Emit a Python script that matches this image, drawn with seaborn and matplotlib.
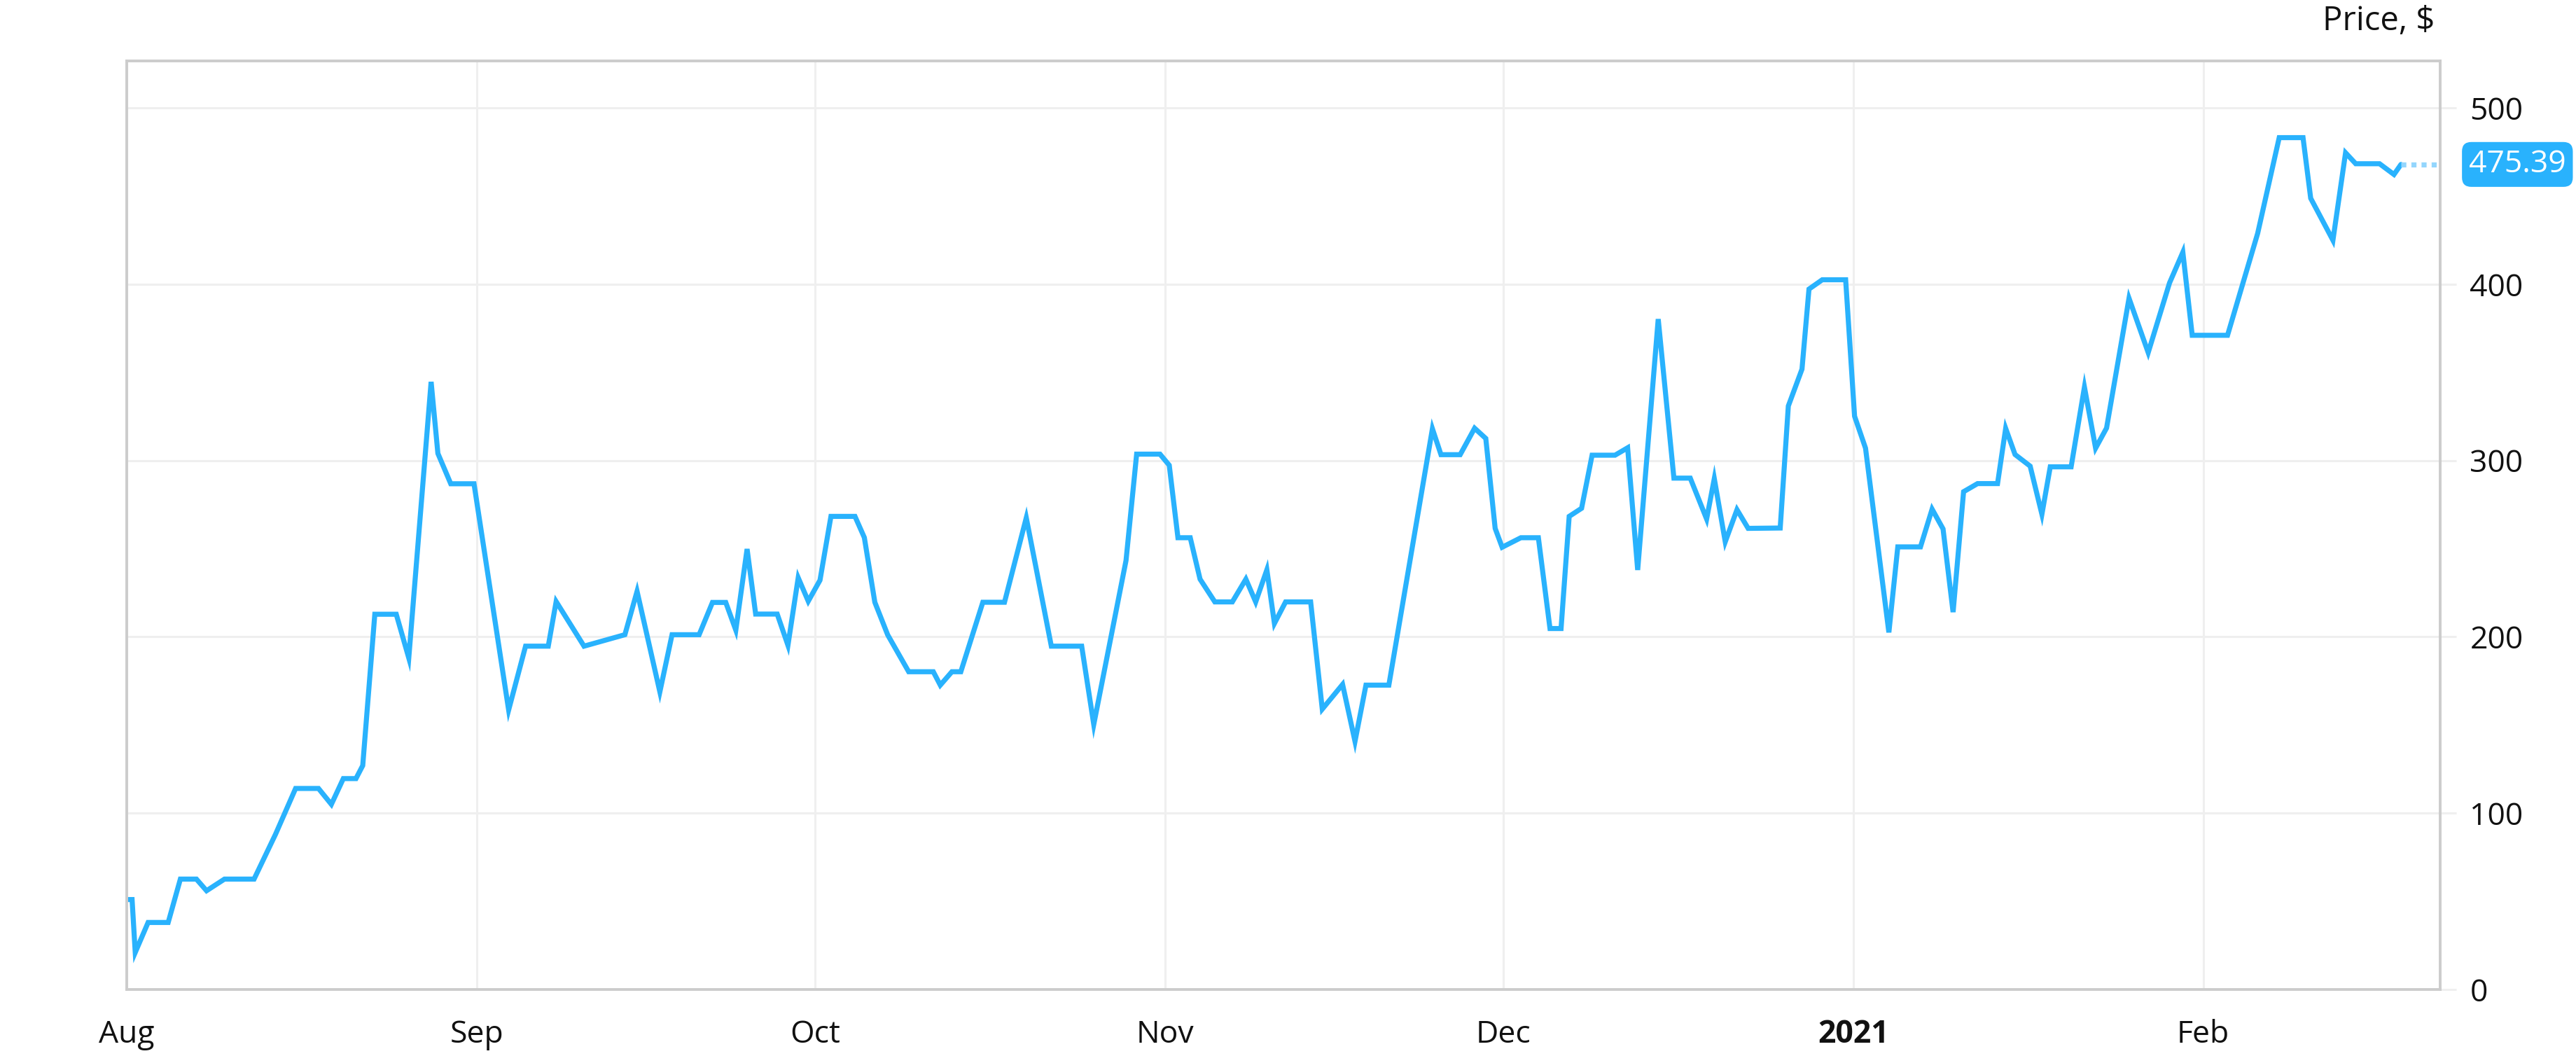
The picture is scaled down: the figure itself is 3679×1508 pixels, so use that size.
import pandas as pd
import matplotlib.pyplot as plt
import seaborn as sns

START = "2020-08-01"
END = "2021-02-22"

# days after START and closing price
day_offsets = [
    0.1, 0.47, 0.75, 1.89, 3.67, 4.75, 6.17, 7.07, 8.66, 11.28, 13.18, 14.96,
    16.99, 18.13, 19.19, 20.31, 20.91, 21.98, 23.88, 24.99, 26.97, 27.57, 28.71,
    30.77, 33.84, 35.34, 37.35, 38.05, 40.52, 44.14, 45.22, 47.24, 48.32, 50.72,
    51.9, 53.08, 53.97, 54.97, 55.73, 57.64, 58.59, 59.5, 60.39, 61.43, 62.4,
    64.53, 65.36, 66.29, 67.43, 69.29, 71.47, 72.09, 73.12, 73.91, 75.86, 77.78,
    79.71, 81.93, 84.62, 85.69, 88.55, 89.49, 91.56, 92.38, 93.15, 94.24, 95.11,
    96.42, 97.97, 99.17, 100.04, 101.03, 101.7, 102.69, 104.91, 105.94, 107.74,
    108.84, 109.81, 111.84, 115.7, 116.46, 118.16, 119.44, 120.43, 121.26,
    121.88, 123.54, 125.09, 126.12, 127.1, 127.82, 128.92, 129.85, 131.88, 133.0,
    133.89, 135.71, 137.1, 138.55, 140.0, 140.68, 141.65, 142.69, 143.68, 146.52,
    147.24, 148.45, 149.07, 150.25, 152.32, 153.11, 154.08, 156.15, 156.94,
    158.95, 159.98, 160.95, 161.84, 162.77, 164.01, 165.78, 166.5, 167.33,
    168.67, 169.71, 170.45, 172.3, 173.48, 174.47, 175.44, 177.43, 179.13,
    181.02, 182.2, 183.03, 186.16, 188.83, 190.74, 192.85, 193.53, 195.5,
    196.62, 197.52, 199.63, 200.91, 201.53,
]
prices = [
    51, 51, 21, 38, 38, 62.6, 62.6, 56, 62.6, 62.6, 88, 114,
    114, 105, 119.6, 119.6, 127, 212.8, 212.8, 188, 344.6, 304, 286.8,
    286.8, 158.5, 194.7, 194.7, 220, 194.7, 201.2, 225.8, 168.8, 201.2, 201.2,
    219.5, 219.5, 203.8, 249.8, 212.9, 212.9, 195.2, 233.5, 220.2, 232.1, 268.3,
    268.3, 256.3, 219.6, 201.1, 180.2, 180.2, 172.6, 180.2, 180.2, 219.6, 219.6,
    267.5, 194.7, 194.7, 150.3, 243.3, 303.6, 303.6, 297.3, 256.2, 256.2, 232.7,
    219.8, 219.8, 232.7, 219.8, 238, 207.6, 219.8, 219.8, 159, 173,
    140.7, 172.6, 172.6, 318, 303.3, 303.3, 318.3, 312.5, 261.5,
    250.8, 256.2, 256.2, 204.7, 204.7, 268.3, 272.9, 303, 303, 307.2,
    237.9, 380.2, 290, 290, 266.8, 289.7, 253.9, 272.1, 261.5, 261.7,
    330.9, 351.8, 397.2, 402.5, 402.5, 325.1, 307, 202.5, 251,
    251, 272.4, 261.2, 214, 282.3, 286.9, 286.9, 318.2, 303.4,
    296.8, 269.5, 296.4, 296.4, 341.6, 307, 318.4, 392, 361.2,
    400.7, 418.1, 371, 371, 428.8, 483.1, 483.1, 448.7, 424.9,
    474.5, 468.3, 468.3, 462.2, 467.9,
]
last_price_label = "475.39"

month_ticks = ["2020-08-01", "2020-09-01", "2020-10-01", "2020-11-01",
               "2020-12-01", "2021-01-01", "2021-02-01"]
month_labels = ["Aug", "Sep", "Oct", "Nov", "Dec", "2021", "Feb"]
y_ticks = [0, 100, 200, 300, 400, 500]

LINE = "#29b2fd"
LINE_LIGHT = "#94d6fd"
GRID = "#efefef"
SPINE = "#cccccc"

sns.set_theme(style="white")
plt.rcParams["font.family"] = ["Open Sans", "DejaVu Sans"]

df = pd.DataFrame({
    "date": pd.Timestamp(START) + pd.to_timedelta(day_offsets, unit="D"),
    "price": prices,
})

fig = plt.figure(figsize=(18.4, 7.54), dpi=200)
ax = fig.add_axes([0.0492, 0.0630, 0.8978, 0.8793])

sns.lineplot(data=df, x="date", y="price", color=LINE, linewidth=2.6,
             estimator=None, sort=False, ax=ax, solid_joinstyle="miter")
# dotted continuation of the last price to the right edge
ax.plot([df["date"].iloc[-1], pd.Timestamp(END)], [prices[-1], prices[-1]],
        color=LINE_LIGHT, linewidth=2.6, linestyle=(0, (1, 1)),
        dash_capstyle="butt")

ax.set_xlim(pd.Timestamp(START), pd.Timestamp(END))
ax.set_ylim(0, 526.6)
ax.yaxis.tick_right()
ax.set_yticks(y_ticks)
ax.set_xticks(pd.to_datetime(month_ticks))
ax.set_xticklabels(month_labels)
for lab in ax.get_xticklabels():
    if lab.get_text() == "2021":
        lab.set_fontweight("bold")

ax.set_xlabel("")
ax.set_ylabel("")
ax.set_axisbelow(True)
ax.grid(True, color=GRID, linewidth=1.1)
ax.tick_params(axis="both", length=8.3, width=1.1, color=GRID, pad=7,
               labelsize=16, labelcolor="#111111")
for side in ["left", "right", "top", "bottom"]:
    ax.spines[side].set_visible(True)
    ax.spines[side].set_color(SPINE)
    ax.spines[side].set_linewidth(1.4)

ax.text(1.0124, prices[-1], last_price_label, transform=ax.get_yaxis_transform(),
        ha="left", va="center", color="white", fontsize=16, clip_on=False,
        bbox=dict(boxstyle="round,pad=0.22,rounding_size=0.3", fc=LINE, ec="none"))

fig.text(0.945, 0.980, "Price, $", ha="right", va="center", fontsize=17,
         color="#111111")

fig.savefig("out.png", dpi=200)
plt.close(fig)
